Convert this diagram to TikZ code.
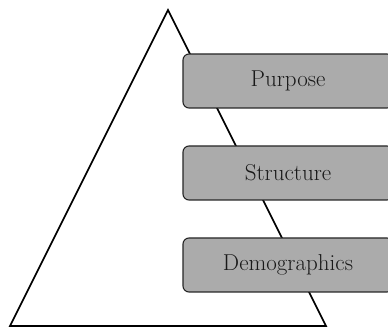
\documentclass[tikz,border=0pt]{standalone}
\usepackage{fontspec}
\usepackage{tikz}
\tikzset{
    layerbox/.style={draw=black!85, line width=1.1pt, fill=black!33, rounded corners=6pt,
        minimum width=210pt, minimum height=54pt, inner sep=0pt,
        font=\fontsize{23}{27}\selectfont, text=black!90}
}
\begin{document}
\begin{tikzpicture}[x=1pt, y=1pt]
            \useasboundingbox (0, 0) rectangle (388, 329);
            \draw[line width=1.6pt, line join=miter] (10, 3) -- (168, 319) -- (326, 3) -- cycle;
            \node[layerbox] (purpose) at (288, 248) {Purpose};
            \node[layerbox] (structure) at (288, 156) {Structure};
            \node[layerbox] (demographics) at (288, 64) {Demographics};
        \end{tikzpicture}
\end{document}
